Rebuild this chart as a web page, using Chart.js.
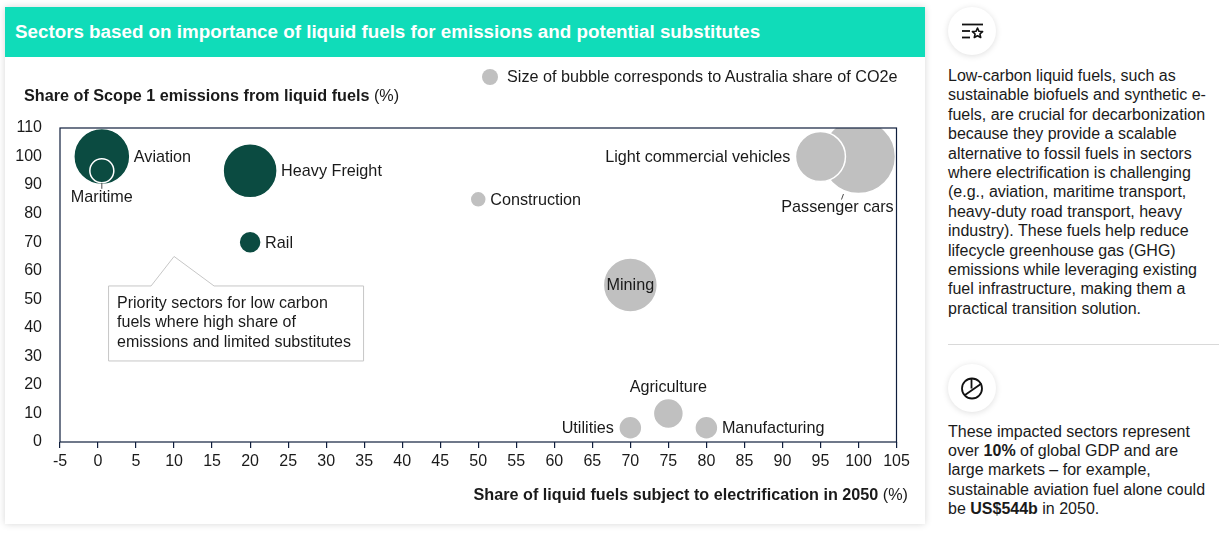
<!DOCTYPE html>
<html>
<head>
<meta charset="utf-8">
<script src="https://cdn.jsdelivr.net/npm/chart.js@4"></script>
<style>
  html,body{margin:0;padding:0;background:#fff;}
  body{width:1228px;height:534px;position:relative;overflow:hidden;font-family:"Liberation Sans",Arial,sans-serif;color:#1a1a1a;}
  #card{position:absolute;left:5px;top:7px;width:920px;height:517px;background:#fff;box-shadow:0 0 7px rgba(0,0,0,0.16);}
  #header{position:absolute;left:5px;top:7px;width:920px;height:50px;background:#10dcb9;color:#fff;font-weight:bold;font-size:18.8px;line-height:50px;padding-left:10px;box-sizing:border-box;white-space:nowrap;z-index:3;}
  #chartWrap{position:absolute;left:0;top:0;width:935px;height:534px;z-index:2;}
  .ttl{position:absolute;font-size:16.2px;white-space:nowrap;z-index:3;}
  .ttl b{font-weight:bold;}
  #legendDot{position:absolute;left:482px;top:69px;width:16px;height:16px;border-radius:50%;background:#c0c0c0;z-index:3;}
  #legendTxt{position:absolute;left:507px;top:67px;font-size:16.2px;line-height:19px;white-space:nowrap;z-index:3;}
  .icon{position:absolute;width:48px;height:48px;border-radius:50%;background:#fff;box-shadow:0 1px 6px rgba(0,0,0,0.13);}
  .icon svg{position:absolute;left:0;top:0;}
  .side{position:absolute;left:948px;font-size:16px;line-height:19.4px;white-space:nowrap;color:#1a1a1a;}
  #sep{position:absolute;left:948px;top:344px;width:271px;height:1px;background:#d9d9d9;}
</style>
</head>
<body>
<div id="card"></div>
<div id="header">Sectors based on importance of liquid fuels for emissions and potential substitutes</div>
<div class="ttl" id="ytitle" style="left:24px;top:86px;"><b>Share of Scope 1 emissions from liquid fuels</b> (%)</div>
<div class="ttl" id="xtitle" style="right:320px;top:485px;"><b>Share of liquid fuels subject to electrification in 2050</b> (%)</div>
<div id="legendDot"></div>
<div id="legendTxt">Size of bubble corresponds to Australia share of CO2e</div>
<div id="chartWrap"><canvas id="c"></canvas></div>

<div class="icon" style="left:948px;top:7px;">
  <svg width="48" height="48" viewBox="0 0 48 48">
    <g stroke="#111" stroke-width="1.8" fill="none" stroke-linecap="butt">
      <line x1="14" y1="17.5" x2="35" y2="17.5"/>
      <line x1="14" y1="24" x2="22" y2="24"/>
      <line x1="14" y1="30.5" x2="22" y2="30.5"/>
    </g>
    <path d="M29.5 21 L31 24.3 L34.6 24.6 L31.9 27 L32.7 30.5 L29.5 28.7 L26.3 30.5 L27.1 27 L24.4 24.6 L28 24.3 Z" fill="none" stroke="#111" stroke-width="1.6" stroke-linejoin="round"/>
  </svg>
</div>
<div class="side" style="top:66px;">Low-carbon liquid fuels, such as<br>sustainable biofuels and synthetic e-<br>fuels, are crucial for decarbonization<br>because they provide a scalable<br>alternative to fossil fuels in sectors<br>where electrification is challenging<br>(e.g., aviation, maritime transport,<br>heavy-duty road transport, heavy<br>industry). These fuels help reduce<br>lifecycle greenhouse gas (GHG)<br>emissions while leveraging existing<br>fuel infrastructure, making them a<br>practical transition solution.</div>
<div id="sep"></div>
<div class="icon" style="left:948px;top:364px;">
  <svg width="48" height="48" viewBox="0 0 48 48">
    <circle cx="24" cy="24.5" r="10" fill="none" stroke="#111" stroke-width="1.8"/>
    <path d="M23.5 14.5 V24.5 M17 31 L33.5 19.5" fill="none" stroke="#111" stroke-width="1.8"/>
  </svg>
</div>
<div class="side" style="top:422px;line-height:19.2px;">These impacted sectors represent<br>over <b>10%</b> of global GDP and are<br>large markets – for example,<br>sustainable aviation fuel alone could<br>be <b>US$544b</b> in 2050.</div>

<script>
// ---- data ----
const sectors = ['Passenger cars','Light commercial vehicles','Aviation','Maritime','Heavy Freight','Rail','Construction','Mining','Agriculture','Utilities','Manufacturing'];
const electrificationShare = [100, 95, 0.5, 0.5, 20, 20, 50, 70, 75, 70, 80];   // x, %
const scope1LiquidShare   = [100, 100, 100, 95, 95, 70, 85, 55, 10, 5, 5];     // y, %
const co2eBubbleSize      = [37, 25, 28, 12, 27, 11, 8, 27, 15, 11.5, 11.5];   // bubble radius (relative CO2e share)
const prioritySector      = [false,false,true,true,true,true,false,false,false,false,false];
const xTicksRange = {min:-5, max:105, step:5};
const yTicksRange = {min:0, max:110, step:10};
const calloutLines = ['Priority sectors for low carbon','fuels where high share of','emissions and limited substitutes'];
const calloutAnchor = {x:10, y:65};

// ---- styles ----
const labelStyle = [
  {side:'below', dx:-21, dy:51, leader:true},
  {side:'left'},
  {side:'right'},
  {side:'below', leader:true},
  {side:'right'},
  {side:'right'},
  {side:'right'},
  {side:'center'},
  {side:'above'},
  {side:'left'},
  {side:'right'}
];
const DARK = '#0b4b41', GREY = '#c0c0c0', FRAME = '#0f1e3d', TXT = '#1a1a1a';
const FONT = '"Liberation Sans", Arial, sans-serif';

const points = sectors.map((s,i)=>({x:electrificationShare[i], y:scope1LiquidShare[i], r:co2eBubbleSize[i]}));

const framePlugin = {
  id:'frame',
  afterDatasetsDraw(chart){
    const {ctx, chartArea:a} = chart;
    ctx.save();
    ctx.strokeStyle = FRAME; ctx.lineWidth = 1.2;
    ctx.strokeRect(a.left, a.top, a.right-a.left, a.bottom-a.top);
    ctx.restore();
  }
};

const labelPlugin = {
  id:'labels',
  afterDatasetsDraw(chart){
    const ctx = chart.ctx;
    const meta = chart.getDatasetMeta(0);
    ctx.save();
    ctx.font = '16.2px ' + FONT;
    ctx.fillStyle = TXT;
    ctx.textBaseline = 'middle';
    meta.data.forEach((el,i)=>{
      const {x,y} = el.getProps(['x','y'], true);
      const r = el.options.radius;
      const st = labelStyle[i];
      const t = sectors[i];
      if (st.side==='right'){ ctx.textAlign='left'; ctx.fillText(t, x+r+4, y+1); }
      else if (st.side==='left'){ ctx.textAlign='right'; ctx.fillText(t, x-r-5, y+1); }
      else if (st.side==='center'){ ctx.textAlign='center'; ctx.fillText(t, x, y+1); }
      else if (st.side==='above'){ ctx.textAlign='center'; ctx.fillText(t, x, y-r-11); }
      else if (st.side==='below'){
        ctx.textAlign='center';
        const dx = st.dx||0, dy = st.dy!==undefined ? st.dy : r+15;
        ctx.fillText(t, x+dx, y+dy);
        if (st.leader){
          ctx.save();
          ctx.strokeStyle = '#4a4a4a'; ctx.lineWidth = 1;
          ctx.beginPath();
          if (dx===0){ ctx.moveTo(x, y+r); ctx.lineTo(x, y+r+6); }
          else { ctx.moveTo(x-15, y+r+0.5); ctx.lineTo(x-17, y+r+6); }
          ctx.stroke();
          ctx.restore();
        }
      }
    });
    ctx.restore();
  }
};

const calloutPlugin = {
  id:'callout',
  afterDatasetsDraw(chart){
    const ctx = chart.ctx;
    const tx = chart.scales.x.getPixelForValue(calloutAnchor.x);
    const ty = chart.scales.y.getPixelForValue(calloutAnchor.y);
    const L = tx-66, R = tx+189, T = ty+29, B = ty+104;
    ctx.save();
    ctx.beginPath();
    ctx.moveTo(L+0.5, T+0.5);
    ctx.lineTo(tx-23, T+0.5);
    ctx.lineTo(tx, ty);
    ctx.lineTo(tx+40, T+0.5);
    ctx.lineTo(R+0.5, T+0.5);
    ctx.lineTo(R+0.5, B+0.5);
    ctx.lineTo(L+0.5, B+0.5);
    ctx.closePath();
    ctx.fillStyle = '#fff'; ctx.fill();
    ctx.strokeStyle = '#c6c6c6'; ctx.lineWidth = 1; ctx.stroke();
    ctx.font = '16px ' + FONT;
    ctx.fillStyle = TXT; ctx.textAlign = 'left'; ctx.textBaseline = 'middle';
    calloutLines.forEach((ln,k)=> ctx.fillText(ln, L+9, T+18+k*19.5));
    ctx.restore();
  }
};

new Chart(document.getElementById('c'), {
  type:'bubble',
  data:{
    datasets:[{
      data: points,
      backgroundColor: prioritySector.map(p=>p?DARK:GREY),
      hoverBackgroundColor: prioritySector.map(p=>p?DARK:GREY),
      borderColor:'#ffffff',
      hoverBorderColor:'#ffffff',
      borderWidth:1.5,
      hoverBorderWidth:1.5,
      hoverRadius:0,
      clip:0
    }]
  },
  options:{
    responsive:true,
    maintainAspectRatio:false,
    animation:false,
    events:[],
    layout:{padding:{left:0, top:128, right:29, bottom:62}},
    plugins:{legend:{display:false}, tooltip:{enabled:false}},
    scales:{
      x:{
        type:'linear', min:xTicksRange.min, max:xTicksRange.max,
        ticks:{stepSize:xTicksRange.step, autoSkip:false, maxRotation:0, padding:4, color:TXT, font:{family:FONT, size:16}},
        grid:{drawOnChartArea:false, drawTicks:true, tickLength:6, color:FRAME, lineWidth:1.2},
        border:{display:false},
        afterFit(s){ s.height = 30; s.paddingLeft = 0; s.paddingRight = 0; }
      },
      y:{
        type:'linear', min:yTicksRange.min, max:yTicksRange.max,
        ticks:{stepSize:yTicksRange.step, autoSkip:false, padding:10, color:TXT, font:{family:FONT, size:16}},
        grid:{display:false},
        border:{display:false},
        afterFit(s){ s.width = 60; }
      }
    }
  },
  plugins:[framePlugin, calloutPlugin, labelPlugin]
});
</script>
</body>
</html>
